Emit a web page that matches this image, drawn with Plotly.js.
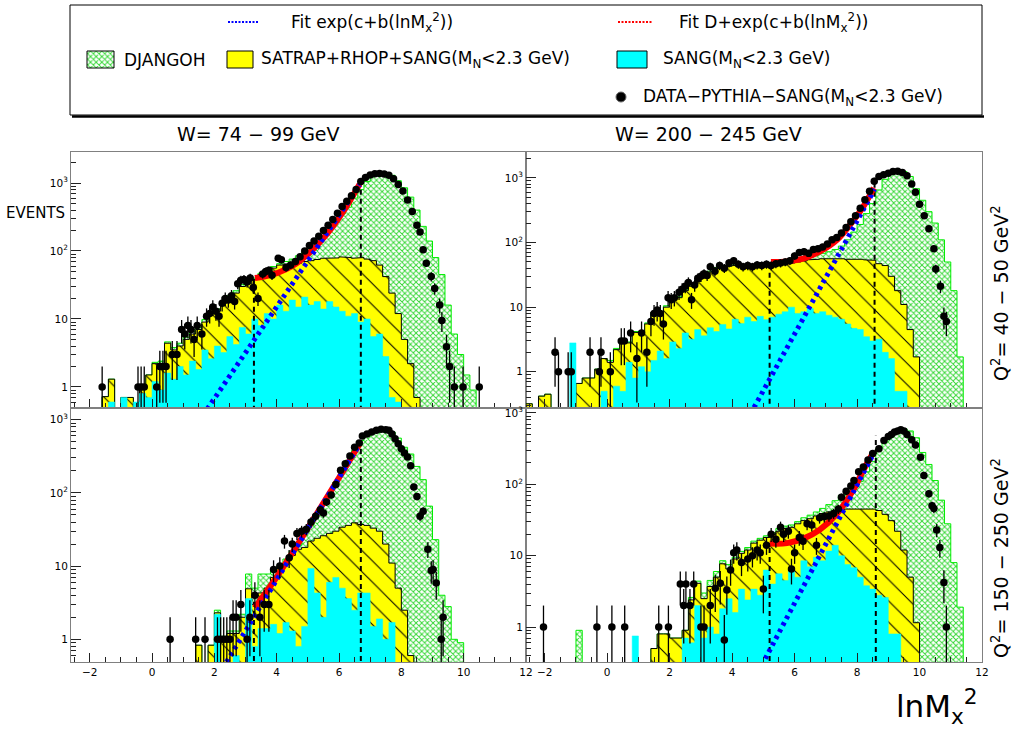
<!DOCTYPE html>
<html><head><meta charset="utf-8">
<script src="https://cdn.plot.ly/plotly-3.0.1.min.js"></script>
<style>html,body{margin:0;padding:0;background:#fff}#chart{width:1014px;height:733px}</style>
</head><body><div id="chart"></div>
<script>
// ---------------- DATA ----------------
const binW = 0.2;
// Top-left: W = 74-99 GeV, Q2 = 40-50 GeV2
const djTL_start = -1.6;
const djTL = [0.72,1.3,0,0.7,0.7,0,1,1.5,2.3,2.4,4.6,3.8,4.4,5.4,6.5,7.6,9.8,13,14,18,22,26,32,36,40,47,53,59,65,70,76,85,96,110,130,165,210,270,350,440,600,800,1050,1300,1420,1400,1300,1080,850,620,400,230,140,80,45,16,6,3,1.5,0.9];
const satTL_start = -1.6;
const satTL = [0.72,1.3,0,0.7,0.7,0,1,1.5,2.2,2.2,4.4,3.5,4,5,6,7,9,12,13,17,21,24,30,33,38,45,50,56,62,64,65,66,70,72,75,78,80,79,82,80,78,80,76,72,62,42,24,12,5,2.2,0.7];
const sangTL_start = -1.4;
const sangTL = [0.6,0,0.7,0,0.6,0.8,0.7,1.2,0.9,1.6,1.3,2,1.5,2.4,1.8,3.5,2.6,4,3.2,5.5,4.2,7.5,6,10,8,12,10,16,13,19,15,21,16,18,14,18,15,13,11,12,9,10,5.5,6,2.8,0.7,0.6,0.5];
const dataTL_x = [-1.6,-0.45,-0.35,-0.25,0.15,0.25,0.35,0.45,0.65,0.8,0.95,1.05,1.15,1.25,1.35,1.45,1.6,1.75,1.85,1.95,2.05,2.15,2.25,2.35,2.45,2.55,2.65,2.75,2.85,2.95,3.05,3.15,3.25,3.4,3.55,3.65,3.75,3.85,4.05,4.15,4.3,4.45,4.6,4.75,4.9,5.05,5.2,5.35,5.5,5.65,5.8,5.95,6.1,6.25,6.4,6.55,6.7,6.85,7.0,7.15,7.3,7.45,7.6,7.75,7.9,8.05,8.2,8.35,8.5,8.6,8.7,8.8,8.96,9.07,9.23,9.3,9.45,9.55,9.7,9.98,10.5];
const dataTL_y = [1,1,1,1,1,2,2,2,3,3,7,6,8,7,5,8,6,11,12,15,13,11,17,20,19,22,18,33,37,38,35,40,29,20,46,50,52,44,78,74,57,62,70,82,100,120,140,165,200,240,290,360,450,540,650,800,1050,1200,1310,1370,1380,1360,1300,1150,950,760,560,380,240,190,104,66,42,28,16,9.5,3.9,2,1,1,1];
const blueTL_x = [1.5, 6.66], blueTL_y = [0.31, 940];
const redTL_x = [3.3, 3.6, 4.0, 4.5, 5.06, 5.6, 6.1, 6.66];
const redTL_y = [40, 42, 47, 60, 95, 175, 360, 960];
const cutTL_x = [3.27, 6.7], cutTL_top = [40, 950];

// Top-right: W = 200-245 GeV, Q2 = 40-50 GeV2
const djTR_start = -2.6;
const djTR = [0.32,0,0.42,0.45,0,0,0,0,0.66,0.8,0.8,1.1,1.6,1.5,2.3,3.2,2.9,4.2,4.2,5.7,8.3,7.8,10.5,13.5,14.5,19,22,26,33,36,41,43,44,45,46,45,46,46,47,46,49,51,53,56,59,62,64,68,72,78,88,110,145,190,280,400,650,950,1150,1280,1250,1050,680,450,300,200,110,50,18,1.7];
const satTR_start = -2.6;
const satTR = [0.32,0,0.42,0.45,0,0,0,0,0.66,0.8,0.8,1.1,1.6,1.4,2.2,3.1,2.8,4.1,4.0,5.5,8,7.5,10,13,14,18,21,25,32,35,40,42,43,44,45,44,45,44,45,44,46,47,48,50,52,54,55,56,57,56,56,55,56,55,54,53,47,44,30,18,11,4.5,1.7];
const sangTR_start = -1.2;
const sangTR = [2.8,0,0,0,0,0.5,0,0.6,0.5,1.4,0.8,1.2,1.0,1.5,2.1,1.6,2.9,2.3,4,3.2,4.5,3.6,4.8,4.2,5.4,4.6,6.5,5.6,7,6,7.2,6.4,7,7.8,8.5,10,8,8.5,9.5,8,8.5,7.5,7,6.5,5.5,4.7,4.5,3.5,3,3.2,2,1.6,0.5,0.5];
const dataTR_x = [-1.67,-1.56,-1.25,-1.15,-0.55,-0.25,-0.2,0.1,0.45,0.55,0.75,0.95,1.1,1.27,1.4,1.5,1.6,1.7,1.8,1.95,2.05,2.15,2.3,2.4,2.5,2.6,2.7,2.8,2.9,3.0,3.1,3.2,3.3,3.45,3.6,3.75,3.9,4.05,4.2,4.35,4.5,4.65,4.8,4.95,5.1,5.25,5.4,5.55,5.7,5.85,6.0,6.15,6.3,6.45,6.6,6.75,6.9,7.05,7.2,7.35,7.5,7.65,7.8,7.95,8.1,8.25,8.4,8.55,8.7,8.85,9.0,9.15,9.3,9.45,9.6,9.75,9.87,10.0,10.15,10.3,10.46,10.52,10.67,10.78,10.86];
const dataTR_y = [2,1,1,1,2,1,2,1,3,3,4,1.6,4,2,6,8,9,8,5.5,14,13,14,17,19,21,24,13,22,28,30,33,31,42,36,44,40,48,52,46,42,44,42,45,44,46,44,47,48,50,52,62,70,72,68,78,80,85,95,110,120,140,170,210,260,340,460,620,890,1050,1120,1180,1250,1260,1210,1080,800,600,390,260,163,80,39,21,7.2,6];
const blueTR_x = [4.7, 8.56], blueTR_y = [0.28, 665];
const redTR_x = [5.24, 5.76, 6.3, 6.8, 7.36, 7.9, 8.2, 8.54];
const redTR_y = [50, 51, 57, 72, 110, 225, 360, 700];
const cutTR_x = [5.2, 8.56], cutTR_top = [54, 1000];

// Bottom-left: W = 74-99 GeV, Q2 = 150-250 GeV2
const djBL_start = 1.4;
const djBL = [0.83,0,0.83,2.5,1.1,1.3,1.3,2.2,7.8,5,7.8,7.8,8.5,10,12.5,16,19,26,36,50,70,97,140,200,280,380,520,640,720,760,740,680,560,420,340,230,152,66,23,4,2.8,1,0.9];
const satBL_start = 1.4;
const satBL = [0.83,0,0.83,2.3,1,1.2,1.2,2,4.9,3,4.3,5,7,9.3,11,14,17,18,22,24,26,28,30,34,36,39,37,36,33,30,20,11,5,2.5,0.6];
const sangBL_start = 2.0;
const sangBL = [2.2,0,0,0.6,0,3.6,0.8,1.4,1.4,1.6,1.2,1.7,1.3,0.8,1.5,9.3,4.3,2,6,7,5,3.6,2.5,4.3,4.3,1.5,1.9,1,1.7];
const dataBL_x = [0.58,1.4,1.7,2.1,2.2,2.3,2.4,2.5,2.6,2.7,2.85,3.05,3.14,3.3,3.46,3.6,3.75,3.9,4.1,4.25,4.4,4.5,4.65,4.8,4.95,5.1,5.25,5.4,5.5,5.6,5.75,5.9,6.05,6.2,6.35,6.5,6.65,6.75,6.9,7.05,7.2,7.35,7.5,7.6,7.7,7.8,7.9,8.0,8.1,8.2,8.3,8.4,8.5,8.6,8.7,8.85,8.96,9.02,9.12,9.28,9.34];
const dataBL_y = [1,1,1,1,1,1,1,1,2,2,3,1,2,4,2,3,3,9,10,22,13,20,28,30,32,40,48,59,53,75,94,130,204,250,320,420,480,600,640,680,720,740,730,720,640,550,470,400,350,310,235,120,89,48,56,17,8.7,9,5.9,1,2];
const blueBL_x = [2.39, 6.66], blueBL_y = [0.49, 465];
const redBL_x = [3.3, 4.0, 5.0, 6.0, 6.66];
const redBL_y = [2.7, 7.1, 33, 161, 466];
const cutBL_x = [3.27, 6.7], cutBL_top = [3.4, 490];

// Bottom-right: W = 200-245 GeV, Q2 = 150-250 GeV2
const djBR_start = -1.0;
const djBR = [0.9,0,0,0,0,0,0,0,0,0,0,0,0.5,0.8,0.8,0.7,0.7,0.9,2.6,4.4,3,4.5,6,8.5,7.5,9.5,11.5,13,16,17.5,19,21,24,26,27,30,34,37,41,46,52,59,70,80,92,110,150,210,320,420,520,580,600,560,450,280,190,113,60,28,8,1.9];
const satBR_start = 1.4;
const satBR = [0.5,0.8,0.8,0.7,0.7,0.9,2.4,4.1,2.5,3.7,5,7.7,6.5,9,10.8,12,15,16.5,18,20,22,24,25,28,31,33,36,39,41,43,44,45,45,46,45,45,43,38,31,22,12,5,1.15];
const sangBR_start = 0.8;
const sangBR = [0.75,0,0,0,0,0,0,0,0.7,0.6,2,0.7,1,0.8,1.8,2.5,1.6,3.4,2.4,3.4,2.8,6.3,4,5.6,4.5,6,5,8.5,7,9.5,8.5,11.6,14,10,7.5,6.8,5,3.8,3.4,2.8,2.6,0.8,0.8];
const dataBR_x = [-2.04,-0.33,0.15,0.56,1.65,1.96,2.34,2.45,2.52,2.65,2.77,3.0,3.1,3.3,3.46,3.62,3.75,3.83,3.95,4.05,4.15,4.3,4.5,4.65,4.8,4.9,5.0,5.1,5.25,5.4,5.55,5.65,5.8,5.9,6.0,6.15,6.27,6.4,6.55,6.7,6.8,6.95,7.1,7.25,7.4,7.5,7.65,7.8,7.9,8.05,8.2,8.35,8.5,8.7,8.86,9.0,9.1,9.2,9.3,9.4,9.5,9.6,9.75,9.87,10.03,10.14,10.3,10.4,10.46,10.55,10.65,10.78,10.86];
const dataBR_y = [1,1,1,1,1,1,4,2,4,2,4,1,1,2,3.5,4.1,0.66,3.3,6.3,11,12,8,9,10,12,11,3.4,14,20,17,25,20,22,6.5,11,18,16,28,27,14,34,35,36,39,45,66,80,95,113,150,175,220,270,315,410,470,500,540,560,580,560,500,420,355,240,133,74,50,46,23,13,4.2,1];
const blueBR_x = [5.06, 8.52], blueBR_y = [0.36, 265];
const redBR_x = [5.2, 5.76, 6.3, 6.8, 7.36, 7.9, 8.2, 8.52];
const redBR_y = [14.8, 15, 17.5, 23, 39, 87, 158, 280];
const cutBR_x = [5.2, 8.6], cutBR_top = [15, 480];

const yRangeTL = [-0.31, 3.456], yRangeTR = [-0.56, 3.40], yRangeBL = [-0.31, 3.16], yRangeBR = [-0.49, 3.07];
const xTickVals = [-2,0,2,4,6,8,10,12];
const yTickVals = [1,10,100,1000];
const yTickText = ['1','10','10<sup>2</sup>','10<sup>3</sup>'];

// ---------------- BUILD ----------------
const W = 1014, H = 733, TINY = 1e-3;
const FONT = 'DejaVu Sans, Liberation Sans, Arial, sans-serif';
function stepXY(start, vals){
  const xs=[start], ys=[TINY];
  vals.forEach((v,i)=>{const a=start+i*binW, b=a+binW, yv=v>0?v:TINY; xs.push(a,b); ys.push(yv,yv);});
  xs.push(start+vals.length*binW); ys.push(TINY);
  return {xs, ys};
}
const traces = [];
const panels = [
  {xa:'x',  ya:'y',  dj:[djTL_start,djTL], sat:[satTL_start,satTL], sang:[sangTL_start,sangTL], dx:dataTL_x, dy:dataTL_y, bx:blueTL_x, by:blueTL_y, rx:redTL_x, ry:redTL_y, cx:cutTL_x, ct:cutTL_top},
  {xa:'x2', ya:'y2', dj:[djTR_start,djTR], sat:[satTR_start,satTR], sang:[sangTR_start,sangTR], dx:dataTR_x, dy:dataTR_y, bx:blueTR_x, by:blueTR_y, rx:redTR_x, ry:redTR_y, cx:cutTR_x, ct:cutTR_top},
  {xa:'x3', ya:'y3', dj:[djBL_start,djBL], sat:[satBL_start,satBL], sang:[sangBL_start,sangBL], dx:dataBL_x, dy:dataBL_y, bx:blueBL_x, by:blueBL_y, rx:redBL_x, ry:redBL_y, cx:cutBL_x, ct:cutBL_top},
  {xa:'x4', ya:'y4', dj:[djBR_start,djBR], sat:[satBR_start,satBR], sang:[sangBR_start,sangBR], dx:dataBR_x, dy:dataBR_y, bx:blueBR_x, by:blueBR_y, rx:redBR_x, ry:redBR_y, cx:cutBR_x, ct:cutBR_top}
];
const greenPattern = {shape:'x', fgcolor:'#33d633', bgcolor:'#ffffff', size:4, solidity:0.42};
const yellowPattern = {shape:'\\', fgcolor:'#000000', bgcolor:'#ffff00', size:15, solidity:0.07};
panels.forEach(p=>{
  const g = stepXY(p.dj[0], p.dj[1]);
  traces.push({type:'scatter', mode:'lines', x:g.xs, y:g.ys, xaxis:p.xa, yaxis:p.ya, fill:'toself',
    fillpattern:greenPattern, fillcolor:'#ffffff', line:{color:'#00ee00', width:1}, hoverinfo:'skip'});
  const s = stepXY(p.sat[0], p.sat[1]);
  traces.push({type:'scatter', mode:'lines', x:s.xs, y:s.ys, xaxis:p.xa, yaxis:p.ya, fill:'toself',
    fillpattern:yellowPattern, fillcolor:'#ffff00', line:{color:'#000000', width:1}, hoverinfo:'skip'});
  const c = stepXY(p.sang[0], p.sang[1]);
  traces.push({type:'scatter', mode:'lines', x:c.xs, y:c.ys, xaxis:p.xa, yaxis:p.ya, fill:'toself',
    fillcolor:'#00ffff', line:{color:'#00ffff', width:0.5}, hoverinfo:'skip'});
  traces.push({type:'scatter', mode:'lines', x:[p.cx[0],p.cx[0],null,p.cx[1],p.cx[1]], y:[TINY,p.ct[0],null,TINY,p.ct[1]],
    xaxis:p.xa, yaxis:p.ya, line:{color:'#000', width:2, dash:'5px,4px'}, hoverinfo:'skip'});
  traces.push({type:'scatter', mode:'lines', x:p.rx, y:p.ry, xaxis:p.xa, yaxis:p.ya,
    line:{color:'#ff0000', width:6, shape:'spline'}, hoverinfo:'skip'});
  traces.push({type:'scatter', mode:'lines', x:p.bx, y:p.by, xaxis:p.xa, yaxis:p.ya,
    line:{color:'#0000ff', width:5, dash:'3.5px,4px'}, hoverinfo:'skip'});
  const ep = p.dy.map(v=>Math.sqrt(v)), em = p.dy.map(v=>Math.min(Math.sqrt(v), v*0.999));
  traces.push({type:'scatter', mode:'markers', x:p.dx, y:p.dy, xaxis:p.xa, yaxis:p.ya,
    marker:{color:'#000', size:7.5}, error_y:{type:'data', array:ep, arrayminus:em, color:'#000', thickness:1.3, width:0}, hoverinfo:'skip'});
});

// legend items drawn on an overlay pixel axis
function box(x0,y0,x1,y1,fill,pattern,lc){
  const t = {type:'scatter', mode:'lines', x:[x0,x1,x1,x0,x0], y:[y0,y0,y1,y1,y0], xaxis:'x5', yaxis:'y5',
    fill:'toself', fillcolor:fill, line:{color:lc, width:1}, hoverinfo:'skip'};
  if(pattern) t.fillpattern = pattern;
  return t;
}
traces.push(box(87,51,114,68,'#ffffff',greenPattern,'#000'));
traces.push(box(227,51,253,68,'#ffff00',null,'#000'));
traces.push(box(617,51,647,68,'#00ffff',null,'#000'));
traces.push({type:'scatter', mode:'lines', x:[228,258], y:[22,22], xaxis:'x5', yaxis:'y5', line:{color:'#0000ff', width:2, dash:'2px,1.5px'}, hoverinfo:'skip'});
traces.push({type:'scatter', mode:'lines', x:[618,652], y:[22,22], xaxis:'x5', yaxis:'y5', line:{color:'#ff0000', width:2, dash:'2px,1.5px'}, hoverinfo:'skip'});
traces.push({type:'scatter', mode:'markers', x:[621], y:[97], xaxis:'x5', yaxis:'y5', marker:{color:'#000', size:10, line:{color:'#666',width:1}}, hoverinfo:'skip'});

// ---------------- LAYOUT ----------------
const xDomL = [71/W, 526/W], xDomR = [526/W, 982/W];
const yDomT = [1-408/H, 1-152/H], yDomB = [1-662/H, 1-408/H];
const minorY = [];
[0.1,1,10,100,1000].forEach(d=>{for(let k=2;k<=9;k++) minorY.push(k*d);});
function xAx(dom, anchor, labels){
  return {domain:dom, anchor:anchor, range:[-2.6,12], tickmode:'array', tickvals:xTickVals, ticks:'inside', ticklen:9, tickcolor:'#222',
    minor:{tickmode:'linear', tick0:0, dtick:0.5, ticks:'inside', ticklen:5, tickcolor:'#222'},
    showticklabels:labels, showline:true, mirror:true, linecolor:'#808080', linewidth:1, showgrid:false, zeroline:false,
    tickfont:{family:FONT, size:10.5, color:'#000'}};
}
function yAx(dom, anchor, range){
  return {domain:dom, anchor:anchor, type:'log', range:range, tickmode:'array', tickvals:yTickVals, ticktext:yTickText,
    ticks:'inside', ticklen:10, tickcolor:'#222',
    minor:{tickmode:'array', tickvals:minorY, ticks:'inside', ticklen:5, tickcolor:'#222'},
    showline:true, mirror:true, linecolor:'#808080', linewidth:1, showgrid:false, zeroline:false,
    tickfont:{family:FONT, size:10.5, color:'#000'}};
}
function ann(text, x, y, size, opts){
  return Object.assign({text:text, xref:'paper', yref:'paper', x:x/W, y:1-y/H, xanchor:'left', yanchor:'middle',
    showarrow:false, font:{family:FONT, size:size, color:'#000'}}, opts||{});
}
const layout = {
  width:W, height:H, margin:{l:0,r:0,t:0,b:0}, paper_bgcolor:'#ffffff', plot_bgcolor:'rgba(0,0,0,0)', showlegend:false,
  xaxis: xAx(xDomL,'y',false), yaxis: yAx(yDomT,'x',yRangeTL),
  xaxis2: xAx(xDomR,'y2',false), yaxis2: yAx(yDomT,'x2',yRangeTR),
  xaxis3: xAx(xDomL,'y3',true), yaxis3: yAx(yDomB,'x3',yRangeBL),
  xaxis4: xAx(xDomR,'y4',true), yaxis4: yAx(yDomB,'x4',yRangeBR),
  xaxis5: {domain:[0,1], anchor:'y5', range:[0,W], visible:false, fixedrange:true},
  yaxis5: {domain:[0,1], anchor:'x5', range:[H,0], visible:false, fixedrange:true},
  shapes:[
    {type:'rect', xref:'paper', yref:'paper', x0:70/W, x1:982/W, y0:1-115/H, y1:1-5/H, line:{color:'#000', width:1}},
    {type:'line', xref:'paper', yref:'paper', x0:72/W, x1:984/W, y0:1-116.5/H, y1:1-116.5/H, line:{color:'#000', width:2.5}}
  ],
  annotations:[
    ann('Fit exp(c+b(lnM<sub>x</sub><sup>2</sup>))', 289, 22, 17),
    ann('Fit D+exp(c+b(lnM<sub>x</sub><sup>2</sup>))', 677, 22, 17),
    ann('DJANGOH', 122, 60, 17),
    ann('SATRAP+RHOP+SANG(M<sub>N</sub><2.3 GeV)', 259, 60, 17),
    ann('SANG(M<sub>N</sub><2.3 GeV)', 661, 60, 17),
    ann('DATA−PYTHIA−SANG(M<sub>N</sub><2.3 GeV)', 641, 97, 17),
    ann('W= 74 − 99 GeV', 258, 134, 19, {xanchor:'center'}),
    ann('W= 200 − 245 GeV', 708, 134, 19, {xanchor:'center'}),
    ann('EVENTS', 4, 213, 15),
    ann('Q<sup>2</sup>= 40 − 50 GeV<sup>2</sup>', 1000, 293, 19, {xanchor:'center', textangle:-90}),
    ann('Q<sup>2</sup>= 150 − 250 GeV<sup>2</sup>', 1000, 558, 19, {xanchor:'center', textangle:-90}),
    ann('lnM<sub>x</sub><sup>2</sup>', 937, 706, 31, {xanchor:'center'})
  ]
};
Plotly.newPlot('chart', traces, layout, {displayModeBar:false, staticPlot:true});
</script></body></html>
